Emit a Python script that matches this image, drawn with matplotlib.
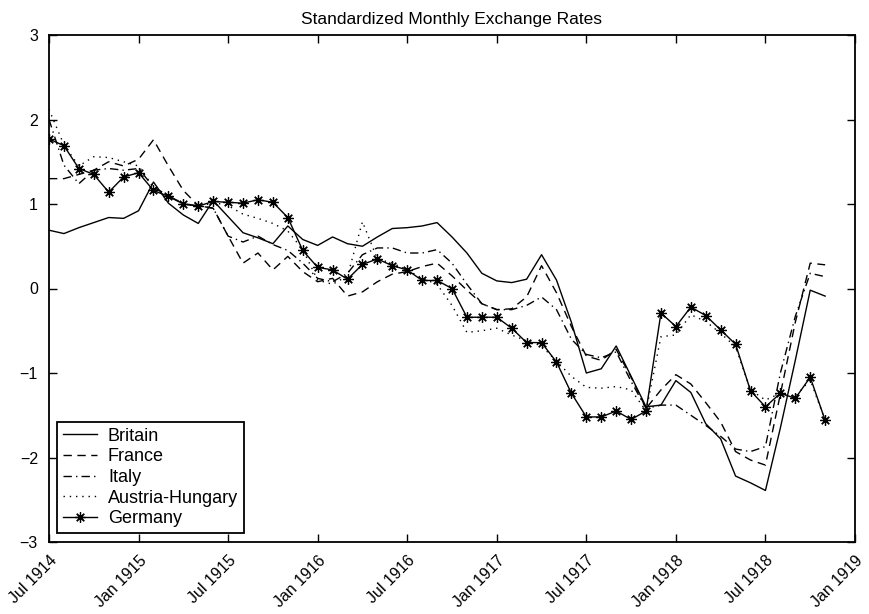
import numpy as np
import matplotlib
matplotlib.use('Agg')
from matplotlib import pyplot as plt

plt.rcParams['font.family'] = ['Liberation Sans', 'DejaVu Sans']

#################################
# Data: standardized monthly exchange rates, Jul 1914 .. Nov 1918
months = np.arange(53)   # months since Jul 1914

britain = [0.69, 0.65, 0.72, 0.78, 0.84, 0.83, 0.92, 1.26, 1.01, 0.87,
           0.77, 1.04, 0.85, 0.66, 0.60, 0.53, 0.74, 0.58, 0.51, 0.61,
           0.53, 0.50, 0.61, 0.71, 0.72, 0.74, 0.78, 0.61, 0.42, 0.18,
           0.09, 0.07, 0.11, 0.40, 0.10, -0.40, -1.00, -0.95, -0.68, -1.04,
           -1.40, -1.38, -1.09, -1.23, -1.60, -1.78, -2.22, -2.30, -2.39, -1.65,
           -0.85, -0.02, -0.09]
france = [1.30, 1.30, 1.35, 1.40, 1.50, 1.45, 1.53, 1.76, 1.45, 1.16,
          0.98, 0.95, 0.62, 0.30, 0.42, 0.22, 0.38, 0.20, 0.08, 0.12,
          -0.09, -0.04, 0.08, 0.17, 0.20, 0.26, 0.30, 0.15, -0.02, -0.18,
          -0.25, -0.24, -0.10, 0.27, -0.05, -0.45, -0.80, -0.85, -0.72, -1.05,
          -1.42, -1.20, -1.02, -1.13, -1.35, -1.58, -1.93, -2.03, -2.09, -1.25,
          -0.40, 0.30, 0.28]
italy = [2.00, 1.46, 1.24, 1.40, 1.42, 1.40, 1.42, 1.20, 1.10, 1.00,
         0.98, 0.95, 0.62, 0.55, 0.62, 0.52, 0.45, 0.30, 0.12, 0.08,
         0.18, 0.40, 0.48, 0.48, 0.42, 0.42, 0.46, 0.30, 0.05, -0.18,
         -0.25, -0.25, -0.20, -0.10, -0.25, -0.60, -0.78, -0.82, -0.75, -1.10,
         -1.42, -1.38, -1.38, -1.50, -1.62, -1.75, -1.90, -1.93, -1.87, -1.00,
         -0.33, 0.18, 0.14]
austria = [2.12, 1.70, 1.45, 1.56, 1.55, 1.50, 1.45, 1.20, 1.08, 1.02,
           0.96, 1.02, 0.98, 0.88, 0.83, 0.77, 0.68, 0.46, 0.10, 0.05,
           0.15, 0.79, 0.35, 0.30, 0.22, 0.12, 0.05, -0.20, -0.52, -0.50,
           -0.47, -0.55, -0.62, -0.68, -0.86, -1.04, -1.17, -1.18, -1.16, -1.20,
           -1.45, -0.57, -0.55, -0.31, -0.39, -0.53, -0.69, -1.20, -1.32, -1.24,
           -1.28, -1.08, -1.56]
germany = [1.77, 1.69, 1.42, 1.35, 1.14, 1.32, 1.37, 1.16, 1.09, 1.00,
           0.975, 1.03, 1.02, 1.01, 1.05, 1.02, 0.84, 0.45, 0.25, 0.22,
           0.11, 0.285, 0.35, 0.27, 0.22, 0.095, 0.095, 0.00, -0.34, -0.34,
           -0.34, -0.47, -0.64, -0.64, -0.87, -1.24, -1.52, -1.52, -1.45, -1.55,
           -1.45, -0.29, -0.45, -0.22, -0.32, -0.49, -0.66, -1.21, -1.40, -1.24,
           -1.30, -1.05, -1.56]

tick_months = np.arange(0, 55, 6)
tick_labels = ['Jul 1914', 'Jan 1915', 'Jul 1915', 'Jan 1916', 'Jul 1916',
               'Jan 1917', 'Jul 1917', 'Jan 1918', 'Jul 1918', 'Jan 1919']
#################################


#################################
# Make figure
tk_fs = 11.5
tt_fs = 12.5
lg_fs = 13

fig = plt.figure(figsize=[8.7, 6.14], dpi=100)
ax = fig.add_axes([49/870., 1-542/614., 806/870., 507/614.])

ax.plot(months, britain, 'k-', lw=1.0, label='Britain')
ax.plot(months, france, 'k', lw=1.0, dashes=(6, 4), label='France')
ax.plot(months, italy, 'k', lw=1.0, dashes=(6, 3, 1, 3), label='Italy')
ax.plot(months, austria, 'k', lw=1.0, dashes=(1, 3.5), label='Austria-Hungary')
ax.plot(months, germany, 'k-', lw=1.0, marker=(8, 2, 0), ms=7.5, mew=0.9,
        label='Germany')

ax.set_xlim(0, 54)
ax.set_ylim(-3, 3)
ax.set_xticks(tick_months)
ax.set_xticklabels(tick_labels, rotation=45, ha='right', rotation_mode='anchor')
ax.set_yticks(np.arange(-3, 4, 1))
ax.tick_params(axis='both', which='major', labelsize=tk_fs, direction='in',
               length=6, width=1.0, top=True, right=True)
ax.tick_params(axis='x', pad=8)
ax.tick_params(axis='y', pad=8)
for sp in ax.spines.values():
    sp.set_linewidth(1.3)

ax.set_title('Standardized Monthly Exchange Rates', fontsize=tt_fs, pad=8)

leg = ax.legend(loc='lower left', bbox_to_anchor=(0.0099, 0.0178),
                borderaxespad=0, fontsize=lg_fs, handlelength=1.9,
                handletextpad=0.6, labelspacing=0.2, borderpad=0.32,
                fancybox=False, framealpha=1, edgecolor='k')
leg.get_frame().set_linewidth(1.3)

plt.savefig('out.png', dpi=100)
#################################
